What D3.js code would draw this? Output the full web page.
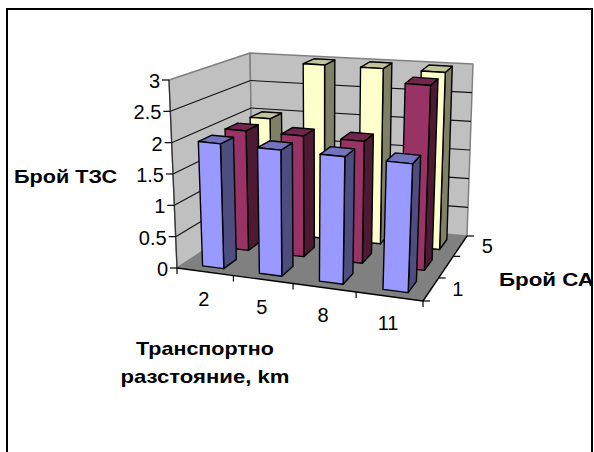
<!DOCTYPE html>
<html>
	<head>
		<title>Брой ТЗС</title>
		<script src="https://d3js.org/d3.v7.min.js"></script>
		<style>
			html, body { margin: 0; background: #fff; }
			text { font-family: "Liberation Sans", Arial, sans-serif; fill: #000; }
		</style>
	</head>
	<body>
		<div id="chart"></div>
		<script>
			// data
			var distances = ['2', '5', '8', '11'];
			var depthKeys = ['1', '3', '5'];
			var depthLabels = ['1', '', '5'];
			var yTicks = [0, 0.5, 1, 1.5, 2, 2.5, 3];
			var series1 = [2, 2, 2, 2];
			var series3 = [2, 2, 2, 3];
			var series5 = [2, 3, 3, 3];

			var rows = [
				{key: '5', values: series5, front: '#FFFFCC', side: '#808066', top: '#C4C49C'},
				{key: '3', values: series3, front: '#993366', side: '#4D1A33', top: '#73264D'},
				{key: '1', values: series1, front: '#9999FF', side: '#4D4D80', top: '#7373BF'}
			];

			// corners of the 3d box on screen: [front/back][left/right][bottom/top]
			var box = {
				flb: [177, 268], frb: [423, 301], blb: [253, 218], brb: [467, 236],
				flt: [169, 80], frt: [431, 105], blt: [250, 53], brt: [473, 64]
			};

			// foreshortening
			var uWarp = 1.12, dWarp = 0.91;

			function warp(t, w) {
				return t / (t + (1 - t) * w);
			}

			function lerp(a, b, t) {
				return [a[0] + (b[0] - a[0]) * t, a[1] + (b[1] - a[1]) * t];
			}

			// u = along categories, d = into depth, h = up, all 0..1
			function project(u, d, h) {
				var uu = warp(u, uWarp), dd = warp(d, dWarp);
				var fb = lerp(box.flb, box.frb, uu),
					bb = lerp(box.blb, box.brb, uu),
					ft = lerp(box.flt, box.frt, uu),
					bt = lerp(box.blt, box.brt, uu);
				return lerp(lerp(fb, bb, dd), lerp(ft, bt, dd), h);
			}

			var x = d3.scaleBand().domain(distances).range([0, 1]).paddingInner(0.62).paddingOuter(0.31).align(0.55);
			var z = d3.scaleBand().domain(depthKeys).range([0, 1]).paddingInner(0.5).paddingOuter(0.25);
			var y = d3.scaleLinear().domain([0, 3]).range([0, 1]);

			var svg = d3.select('#chart').append('svg')
				.attr('width', 594)
				.attr('height', 452)
				.style('display', 'block');

			var line = d3.line();

			function poly(pts, fill, stroke, width) {
				return svg.append('path')
					.attr('d', line(pts) + 'Z')
					.attr('fill', fill)
					.attr('stroke', stroke || 'none')
					.attr('stroke-width', width || 1)
					.attr('stroke-linejoin', 'round');
			}

			function seg(a, b, stroke, width) {
				return svg.append('path')
					.attr('d', line([a, b]))
					.attr('fill', 'none')
					.attr('stroke', stroke)
					.attr('stroke-width', width || 1);
			}

			function label(tx, ty, s, anchor) {
				svg.append('text')
					.attr('x', tx)
					.attr('y', ty)
					.attr('text-anchor', anchor)
					.attr('font-size', 20)
					.text(s);
			}

			// frame, no bottom edge in the picture
			svg.append('path')
				.attr('d', line([[7, 452], [7, 9], [592, 9], [592, 452]]))
				.attr('fill', 'none')
				.attr('stroke', '#000')
				.attr('stroke-width', 2);

			// walls and floor
			poly([project(0, 0, 0), project(0, 0, 1), project(0, 1, 1), project(0, 1, 0)], '#C0C0C0', '#808080', 1.5);
			poly([project(0, 1, 0), project(0, 1, 1), project(1, 1, 1), project(1, 1, 0)], '#C0C0C0', '#808080', 1.5);
			poly([project(0, 0, 0), project(0, 1, 0), project(1, 1, 0), project(1, 0, 0)], '#808080');

			// gridlines
			yTicks.slice(1, -1).forEach(function(t) {
				var h = y(t);
				seg(project(0, 0, h), project(0, 1, h), '#111', 1.1);
				seg(project(0, 1, h), project(1, 1, h), '#111', 1.1);
			});

			// axes
			seg(project(0, 0, 0), project(0, 0, 1), '#333', 1.2);
			seg(project(0, 0, 0), project(1, 0, 0), '#000', 1.4);
			seg(project(1, 0, 0), project(1, 1, 0), '#000', 1.4);

			yTicks.forEach(function(t) {
				var p = project(0, 0, y(t));
				seg([p[0] - 7, p[1]], p, '#000', 1.2);
				label(p[0] - 9, p[1] + 8, t, 'end');
			});

			// x ticks sit on the band edges, labels in the band middle
			d3.range(distances.length + 1).forEach(function(i) {
				var p = project(i / distances.length, 0, 0);
				seg(p, [p[0], p[1] + 6], '#000', 1.2);
			});
			distances.forEach(function(c, i) {
				var p = project((i + 0.5) / distances.length, 0, 0);
				label(p[0] - 1, p[1] + 34, c, 'middle');
			});

			d3.range(depthKeys.length + 1).forEach(function(i) {
				var p = project(1, i / depthKeys.length, 0);
				seg(p, [p[0] + 7, p[1]], '#000', 1.2);
			});
			depthKeys.forEach(function(k, i) {
				if (!depthLabels[i]) return;
				var p = project(1, z(k) + z.bandwidth() / 2, 0);
				label(p[0] + 27, p[1] + 7, depthLabels[i], 'middle');
			});

			// bars, back row first
			rows.forEach(function(row) {
				var d0 = z(row.key), d1 = d0 + z.bandwidth();
				distances.forEach(function(c, i) {
					var u0 = x(c), u1 = u0 + x.bandwidth(), h = y(row.values[i]);
					poly([project(u1, d0, 0), project(u1, d1, 0), project(u1, d1, h), project(u1, d0, h)], row.side, '#000', 1.4);
					poly([project(u0, d0, h), project(u1, d0, h), project(u1, d1, h), project(u0, d1, h)], row.top, '#000', 1.4);
					poly([project(u0, d0, 0), project(u1, d0, 0), project(u1, d0, h), project(u0, d0, h)], row.front, '#000', 1.4);
				});
			});

			// axis titles, the original font is wider than it is tall
			function title(tx, ty, s, len, anchor) {
				svg.append('text')
					.attr('x', tx)
					.attr('y', ty)
					.attr('text-anchor', anchor || 'start')
					.attr('font-size', 18.5)
					.attr('font-weight', 'bold')
					.attr('textLength', len)
					.attr('lengthAdjust', 'spacingAndGlyphs')
					.text(s);
			}
			title(14, 183, 'Брой ТЗС', 103);
			title(499, 286, 'Брой СА', 95);
			title(205, 355, 'Транспортно', 138, 'middle');
			title(205, 383, 'разстояние, km', 169, 'middle');
		</script>
	</body>
</html>
